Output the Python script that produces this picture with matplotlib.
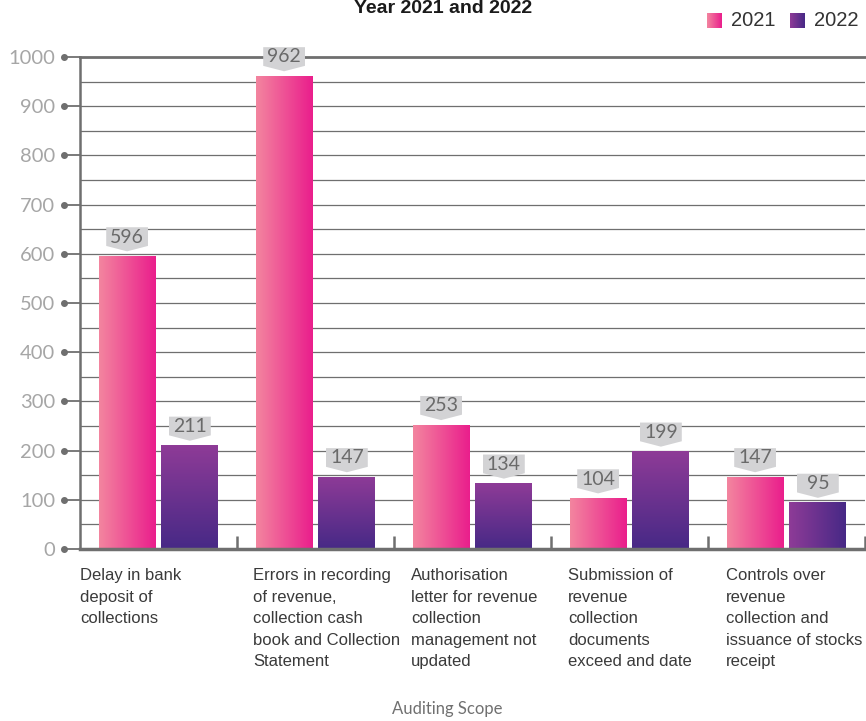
import numpy as np
import matplotlib.pyplot as plt
from matplotlib.patches import Polygon
from matplotlib.transforms import blended_transform_factory

# data
categories = ["Delay in bank\ndeposit of\ncollections",
              "Errors in recording\nof revenue,\ncollection cash\nbook and Collection\nStatement",
              "Authorisation\nletter for revenue\ncollection\nmanagement not\nupdated",
              "Submission of\nrevenue\ncollection\ndocuments\nexceed and date",
              "Controls over\nrevenue\ncollection and\nissuance of stocks\nreceipt"]
vals_2021 = [596, 962, 253, 104, 147]
vals_2022 = [211, 147, 134, 199, 95]
yticks = [0, 100, 200, 300, 400, 500, 600, 700, 800, 900, 1000]

pink_l, pink_d = "#f3859f", "#ea1e8c"
purp_l, purp_d = "#8e3b97", "#472986"
grid_c = "#6f6f6f"

fig = plt.figure(figsize=(8.66, 7.21), dpi=100)
ax = fig.add_axes([80/866, 1-549/721, 785/866, 492/721])
ax.set_xlim(-0.5, 4.5)
ax.set_ylim(0, 1000)

# gridlines (every 50, major every 100)
for g in range(50, 1000, 50):
    ax.axhline(g, color=grid_c, lw=0.9, zorder=1)
ax.axhline(1000, color=grid_c, lw=2, zorder=1, clip_on=False)

def grad(c1, c2, horiz=True):
    a = np.array(plt.matplotlib.colors.to_rgb(c1))
    b = np.array(plt.matplotlib.colors.to_rgb(c2))
    t = np.linspace(0, 1, 100)
    g = a[None, :] * (1 - t[:, None]) + b[None, :] * t[:, None]
    return g[None, :, :] if horiz else g[:, None, :]

w = 0.363
x = np.arange(len(categories))
for i in range(len(categories)):
    for v, off, cols, horiz in [(vals_2021[i], -0.2, (pink_l, pink_d), True),
                                (vals_2022[i], 0.2, (purp_l, purp_d), i == 4)]:
        xc = x[i] + off
        bar = ax.bar(xc, v, width=w, color="none", zorder=2)[0]
        im = ax.imshow(grad(*cols, horiz=horiz), extent=(xc - w/2, xc + w/2, 0, v),
                       origin="upper" if not horiz else "lower",
                       aspect="auto", zorder=2)
        im.set_clip_path(bar)
        # value label
        hw = 0.133
        tip = v + 9
        poly = Polygon([(xc, tip), (xc + hw, tip + 11), (xc + hw, tip + 49),
                        (xc - hw, tip + 49), (xc - hw, tip + 11)],
                       closed=True, fc="#d3d3d5", ec="none", zorder=4, clip_on=False)
        ax.add_patch(poly)
        ax.text(xc, tip + 29, str(v), ha="center", va="center", fontsize=14,
                color="#6a6a6a", family="Lato", zorder=5, clip_on=False)

ax.set_xlim(-0.5, 4.5)
ax.set_ylim(0, 1000)

# spines
for s in ["top", "right"]:
    ax.spines[s].set_visible(False)
ax.spines["left"].set_color(grid_c)
ax.spines["left"].set_linewidth(1.8)
ax.spines["bottom"].set_color(grid_c)
ax.spines["bottom"].set_linewidth(2.5)

# category separators
ax.vlines([0.5, 1.5, 2.5, 3.5, 4.5], 0, 27, color=grid_c, lw=1.8, zorder=3, clip_on=False)
ax.set_xticks([])

# y ticks with dot ends
ax.set_yticks(yticks)
ax.set_yticklabels([str(t) for t in yticks], fontsize=14.5, color="#a6a6a6",
                   family="Lato")
ax.tick_params(axis="y", length=13, width=1.3, color=grid_c, pad=5)
tr = blended_transform_factory(fig.transFigure, ax.transData)
ax.plot([64/866] * len(yticks), yticks, "o", ms=4, color=grid_c, transform=tr, clip_on=False)

# category labels
lab_x = [80, 253, 411, 568, 726]
for lx, c in zip(lab_x, categories):
    fig.text(lx/866, 1-568/721, c, ha="left", va="top", fontsize=12,
             family="Liberation Sans", color="#3a3a3a", linespacing=1.55)

fig.text(447/866, 1-709/721, "Auditing Scope", ha="center", va="center",
         fontsize=12, family="Lato", color="#707070")

# title (near the top edge like the original)
fig.text(443/866, 1-13/721, "Year 2021 and 2022", ha="center", va="baseline",
         fontsize=14, fontweight="bold", family="Liberation Sans", color="#1a1a1a")

# legend
for lx, tx, cols, lab in [(707, 731, (pink_l, pink_d), "2021"), (790, 814, (purp_l, purp_d), "2022")]:
    lax = fig.add_axes([lx/866, 1-28/721, 15/866, 15/721])
    lax.imshow(grad(*cols), aspect="auto")
    lax.axis("off")
    fig.text(tx/866, 1-21/721, lab, ha="left", va="center", fontsize=14.5,
             family="Liberation Sans", color="#333333")

fig.savefig("out.png", dpi=100)
